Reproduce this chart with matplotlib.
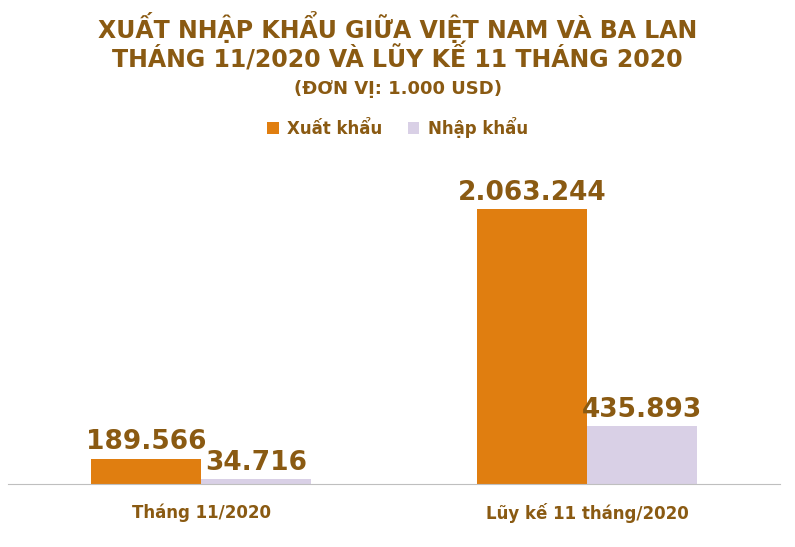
import matplotlib.pyplot as plt
import numpy as np

categories = ['Tháng 11/2020', 'Lũy kế 11 tháng/2020']
xuat_khau = [189566, 2063244]
nhap_khau = [34716, 435893]
series_names = ['Xuất khẩu', 'Nhập khẩu']

orange = '#E07E10'
lavender = '#D9D0E6'
brown = '#8A5A12'


def fmt(v):
    return f'{v:,}'.replace(',', '.')


fig = plt.figure(figsize=(7.95, 5.47), dpi=100)
ax = fig.add_axes([8 / 795, 63 / 547, 772 / 795, 334 / 547])

x = np.arange(len(categories))
w = 0.286
b1 = ax.bar(x - w / 2, xuat_khau, w, color=orange, label=series_names[0])
b2 = ax.bar(x + w / 2, nhap_khau, w, color=lavender, label=series_names[1])

for bars, vals in ((b1, xuat_khau), (b2, nhap_khau)):
    for r, v in zip(bars, vals):
        ax.text(r.get_x() + r.get_width() / 2, v + 25000, fmt(v), ha='center', va='bottom',
                fontsize=19, fontweight='bold', color=brown)

ax.set_xlim(-0.5, 1.5)
ax.set_ylim(0, 2063244 * 334 / 275)
ax.set_yticks([])
ax.set_xticks(x)
ax.set_xticklabels(categories, fontsize=12, fontweight='bold', color=brown)
ax.tick_params(axis='x', length=0, pad=14)
for s in ('top', 'right', 'left'):
    ax.spines[s].set_visible(False)
ax.spines['bottom'].set_color('#BFBFBF')

fig.text(0.5, 1 - 27 / 547, 'XUẤT NHẬP KHẨU GIỮA VIỆT NAM VÀ BA LAN', ha='center', va='center',
         fontsize=17, fontweight='bold', color=brown)
fig.text(0.5, 1 - 58 / 547, 'THÁNG 11/2020 VÀ LŨY KẾ 11 THÁNG 2020', ha='center', va='center',
         fontsize=17, fontweight='bold', color=brown)
fig.text(0.5, 1 - 89 / 547, '(ĐƠN VỊ: 1.000 USD)', ha='center', va='center',
         fontsize=13, fontweight='bold', color=brown)

fig.legend(loc='center', bbox_to_anchor=(0.5, 1 - 127 / 547), ncol=2, frameon=False,
           prop={'size': 12, 'weight': 'bold'}, labelcolor=brown, handlelength=0.7,
           handleheight=0.7, columnspacing=1.5, handletextpad=0.5)

fig.savefig('out.png', dpi=100)
